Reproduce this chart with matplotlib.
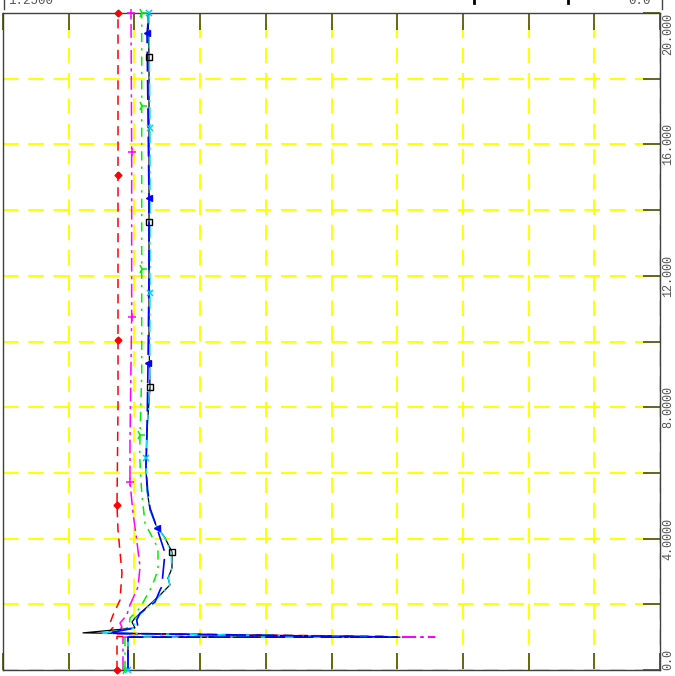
import numpy as np
import matplotlib
matplotlib.use("Agg")
import matplotlib.pyplot as plt
from matplotlib.lines import Line2D

# ---------------- data (x value, depth) ----------------
black_x = [1.0122, 1.0122, 0.4947, 1.0978, 0.9989, 1.0046, 0.9989, 0.9779, 0.9513, 0.9323,
           0.9361, 0.9285, 0.9285, 0.9418, 0.9589, 0.9703, 0.9760, 0.9779, 0.9760, 0.9703,
           0.9722, 0.9722, 0.9722, 0.9722, 0.9741]
black_d = [0.0, 1.0, 1.0, 1.13, 1.28, 1.46, 1.58, 1.89, 2.28, 2.59,
           2.80, 3.10, 3.59, 4.02, 4.41, 4.87, 5.48, 6.09, 7.30, 8.61,
           10.0, 13.64, 16.0, 18.66, 20.0]
black_mx = [0.9722, 0.9722, 0.9703, 0.9285]
black_md = [18.66, 13.64, 8.61, 3.59]

cyan_x = [1.0122, 1.0122, 0.5000, 1.0600, 0.9970, 1.0020, 0.9970, 0.9760, 0.9500, 0.9330,
          0.9350, 0.9290, 0.9300, 0.9420, 0.9590, 0.9700, 0.9760, 0.9785, 0.9760, 0.9710,
          0.9703, 0.9703, 0.9703, 0.9722]
cyan_d = [0.0, 1.0, 1.0, 1.12, 1.28, 1.46, 1.58, 1.89, 2.28, 2.59,
          2.80, 3.10, 3.59, 4.02, 4.41, 4.87, 5.48, 6.45, 7.30, 8.61,
          11.48, 13.0, 16.5, 20.0]
cyan_mx = [1.0122, 0.9785, 0.9703, 0.9703, 0.9722]
cyan_md = [0.0, 6.45, 11.48, 16.5, 20.0]

blue_x = [1.0122, 1.0122, 0.5000, 1.0500, 0.9931, 0.9956, 0.9893, 0.9608, 0.9513, 0.9481,
          0.9437, 0.9418, 0.9570, 0.9703, 0.9750, 0.9780, 0.9760, 0.9741, 0.9722, 0.9722,
          0.9760, 0.9722]
blue_d = [0.0, 1.0, 1.0, 1.12, 1.30, 1.52, 1.73, 2.07, 2.43, 2.53,
          3.26, 3.56, 4.32, 4.93, 5.50, 6.20, 7.30, 9.35, 12.0, 14.37,
          19.39, 20.0]
blue_mx = [0.9741, 0.9722, 0.9570, 0.9760]
blue_md = [9.35, 14.37, 4.32, 19.39]

green_x = [1.0179, 1.0179, 0.5050, 1.0500, 1.0100, 1.0084, 0.9893, 0.9671, 0.9551, 0.9551,
           0.9798, 0.9861, 0.9900, 0.9893, 0.9861, 0.9861, 0.9861, 0.9861]
green_d = [0.0, 1.0, 1.0, 1.12, 1.30, 1.58, 1.89, 2.53, 3.04, 3.70,
           4.47, 5.40, 6.50, 7.15, 9.0, 12.2, 17.17, 20.0]
green_mx = [1.0179, 0.9893, 0.9861, 0.9861, 0.9861]
green_md = [0.0, 7.15, 12.2, 17.17, 20.0]

magenta_x = [1.0217, 1.0217, 0.4281, 1.0400, 1.0236, 1.0274, 1.0146, 1.0084, 0.9931, 0.9893,
             0.9956, 1.0027, 1.0084, 1.0084, 1.0052, 1.0052, 1.0065]
magenta_d = [0.0, 1.0, 1.0, 1.10, 1.30, 1.43, 1.67, 1.98, 2.53, 3.14,
             3.96, 4.78, 5.72, 7.0, 10.75, 15.77, 20.0]
magenta_mx = [1.0084, 1.0052, 1.0052, 1.0065]
magenta_md = [5.72, 10.75, 15.77, 20.0]

red_x = [1.0331, 1.0331, 0.5200, 1.0500, 1.0407, 1.0464, 1.0407, 1.0274, 1.0236, 1.0312,
         1.0331, 1.0312, 1.0312, 1.0312, 1.0312]
red_d = [0.0, 1.02, 1.02, 1.12, 1.30, 1.43, 1.67, 2.13, 2.95, 4.26,
         5.02, 8.0, 10.05, 15.07, 20.0]
red_mx = [1.0331, 1.0331, 1.0312, 1.0312, 1.0312]
red_md = [0.0, 5.02, 10.05, 15.07, 20.0]

x_ticks = [1.25 - 0.125 * i for i in range(11)]
y_major = [0, 4, 8, 12, 16, 20]
y_minor = [2, 6, 10, 14, 18]
y_labels = ["0.0", "4.0000", "8.0000", "12.000", "16.000", "20.000"]
top_left_label = "1.2500"
top_right_label = "0.0"

# ---------------- figure ----------------
fig = plt.figure(figsize=(6.75, 6.76), dpi=100)
ax = fig.add_axes([3 / 675, 1 - 670 / 676, 657 / 675, 657 / 676])
ax.set_xlim(1.25, 0.0)
ax.set_ylim(0, 20)

mono = ["Liberation Mono", "DejaVu Sans Mono"]
olive = "#5a5a10"
txtcol = "#555555"

ax.set_xticks(x_ticks)
ax.set_yticks(y_major)
ax.set_yticks(y_minor, minor=True)
ax.set_yticklabels(y_labels)
ax.set_xticklabels([])
ax.yaxis.tick_right()
ax.tick_params(axis="y", which="both", direction="in", length=12.2, width=1.3,
               color=olive, right=True, left=False, pad=1.5,
               labelsize=8.5, labelcolor=txtcol)
ax.tick_params(axis="x", which="both", direction="in", length=12.2, width=1.3,
               color=olive, top=True, bottom=True)
for lbl, v in zip(ax.get_yticklabels(), y_major):
    lbl.set_rotation(90)
    lbl.set_family(mono)
    if v == 20:
        lbl.set_va("top")
    elif v == 0:
        lbl.set_va("bottom")
    else:
        lbl.set_va("center")

ax.grid(True, which="both", color="#ffff00", linestyle=(0, (8, 5)), linewidth=1.4)
ax.set_axisbelow(True)
for s in ax.spines.values():
    s.set_color("#404040")
    s.set_linewidth(1.0)

# series
ax.plot(red_x, red_d, color="#ff0000", lw=1.1, ls=(0, (6, 4)), zorder=3)
ax.plot(red_mx, red_md, ls="none", marker="D", ms=3.5, color="#ff0000", zorder=4, clip_on=False)

ax.plot(magenta_x, magenta_d, color="#ff00ff", lw=1.1, ls=(0, (9, 3, 2, 3)), zorder=3)
ax.plot(magenta_mx, magenta_md, ls="none", marker="+", ms=6, mew=1.1, color="#ff00ff", zorder=4, clip_on=False)

ax.plot(green_x, green_d, color="#00ee00", lw=1.1, ls=(0, (6, 4, 1.5, 4)), zorder=3)
ax.plot(green_mx, green_md, ls="none", marker="4", ms=7, mew=1.1, color="#00ee00", zorder=4, clip_on=False)

ax.plot(black_x, black_d, color="#000000", lw=0.9, ls="-", zorder=3)
ax.plot(black_mx, black_md, ls="none", marker="s", ms=4.5, mfc="none", mec="#000000", mew=1.0, zorder=4)

ax.plot(cyan_x, cyan_d, color="#00e5ff", lw=1.1, ls=(0, (8, 3, 1.5, 3)), zorder=3)
ax.plot(cyan_mx, cyan_md, ls="none", marker="x", ms=5, mew=1.1, color="#00ccee", zorder=4, clip_on=False)

ax.plot(blue_x, blue_d, color="#0000ff", lw=1.2, ls=(0, (12, 5)), zorder=3)
ax.plot(blue_mx, blue_md, ls="none", marker="<", ms=4.5, color="#0000ff", zorder=4, clip_on=False)

# top header texts (partially cut at figure edge, as in the reference)
fig.text(8 / 675, 1 - 1 / 676, top_left_label, family=mono, fontsize=9,
         color=txtcol, ha="left", va="center")
fig.text(651 / 675, 1 - 1 / 676, top_right_label, family=mono, fontsize=9,
         color=txtcol, ha="right", va="center")
for xp in (4, 662):
    fig.add_artist(Line2D([xp / 675, xp / 675], [1 - 9 / 676, 1.0], color="#444444", lw=1.0))
for xp in (474, 568):
    fig.add_artist(Line2D([xp / 675, xp / 675], [1 - 3 / 676, 1.0], color="#000000", lw=2.0))

fig.savefig("out.png", dpi=100)
